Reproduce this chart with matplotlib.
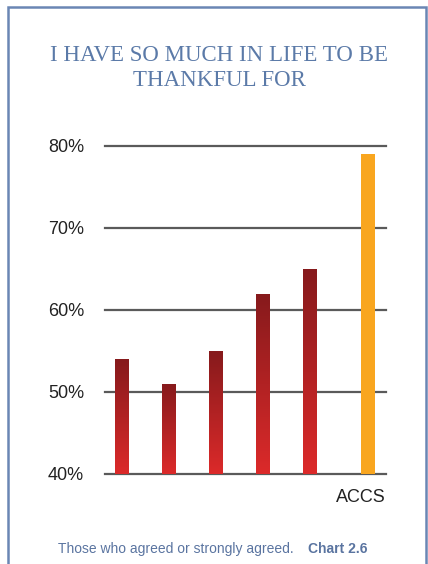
import numpy as np
import matplotlib.pyplot as plt
from matplotlib.patches import Rectangle

# Data
labels = ['', '', '', '', '', 'ACCS']
values = [54, 51, 55, 62, 65, 79]
positions = [0, 1, 2, 3, 4, 5.25]
yticks = [40, 50, 60, 70, 80]

title_color = '#5b7aa8'
red_top = np.array([0x86, 0x1a, 0x1c]) / 255
red_bot = np.array([0xdc, 0x2a, 0x2a]) / 255
orange = '#f9a61f'

fig = plt.figure(figsize=(4.28, 5.64), dpi=100)
ax = fig.add_axes([105 / 428, 90 / 564, 281 / 428, 328 / 564])

# gradient image used for the red bars
grad = np.linspace(0, 1, 256)[:, None]
cols = red_bot[None, None, :] * (1 - grad[..., None]) + red_top[None, None, :] * grad[..., None]

for x, v, lab in zip(positions, values, labels):
    w = 0.29
    if lab == 'ACCS':
        ax.bar(x, v - 40, bottom=40, width=w, color=orange, zorder=3)
        ax.annotate(lab, xy=(1.0, 0), xycoords='axes fraction', xytext=(0, -17),
                    textcoords='offset points', ha='right', va='center',
                    fontsize=13, color='#222222', family='Liberation Sans')
    else:
        bars = ax.bar(x, v - 40, bottom=40, width=w, color='none', zorder=3)
        im = ax.imshow(cols, extent=[x - w / 2, x + w / 2, 40, v], origin='lower',
                       aspect='auto', zorder=3)
        im.set_clip_path(bars[0])

# horizontal grid lines
for y in yticks:
    ax.axhline(y, color='#5a5a5a', lw=1.6, zorder=2, clip_on=False)

ax.set_xlim(-0.36, 5.635)
ax.set_ylim(40, 80)
ax.set_yticks(yticks)
ax.set_yticklabels([f'{t}%' for t in yticks], fontsize=13, color='#222222',
                   family='Liberation Sans')
ax.set_xticks([])
ax.tick_params(length=0, pad=15)
for s in ax.spines.values():
    s.set_visible(False)

fig.text(219 / 428, 1 - 68 / 564, 'I HAVE SO MUCH IN LIFE TO BE\nTHANKFUL FOR',
         ha='center', va='center', fontsize=16.5, color=title_color,
         family='Liberation Serif', linespacing=1.2)

fig.text(58 / 428, 1 - 549 / 564, 'Those who agreed or strongly agreed.',
         ha='left', va='center', fontsize=10, color='#5a74a0', family='Liberation Sans')
fig.text(367 / 428, 1 - 549 / 564, 'Chart 2.6',
         ha='right', va='center', fontsize=10, color='#5a74a0', family='Liberation Sans',
         fontweight='bold')

# frame around the chart
fig.patches.append(Rectangle((8 / 428, -0.05), 418 / 428, 1.05 - 7 / 564,
                             transform=fig.transFigure, fill=False,
                             edgecolor='#6a86b4', lw=1.8))

fig.savefig('out.png', dpi=100)
